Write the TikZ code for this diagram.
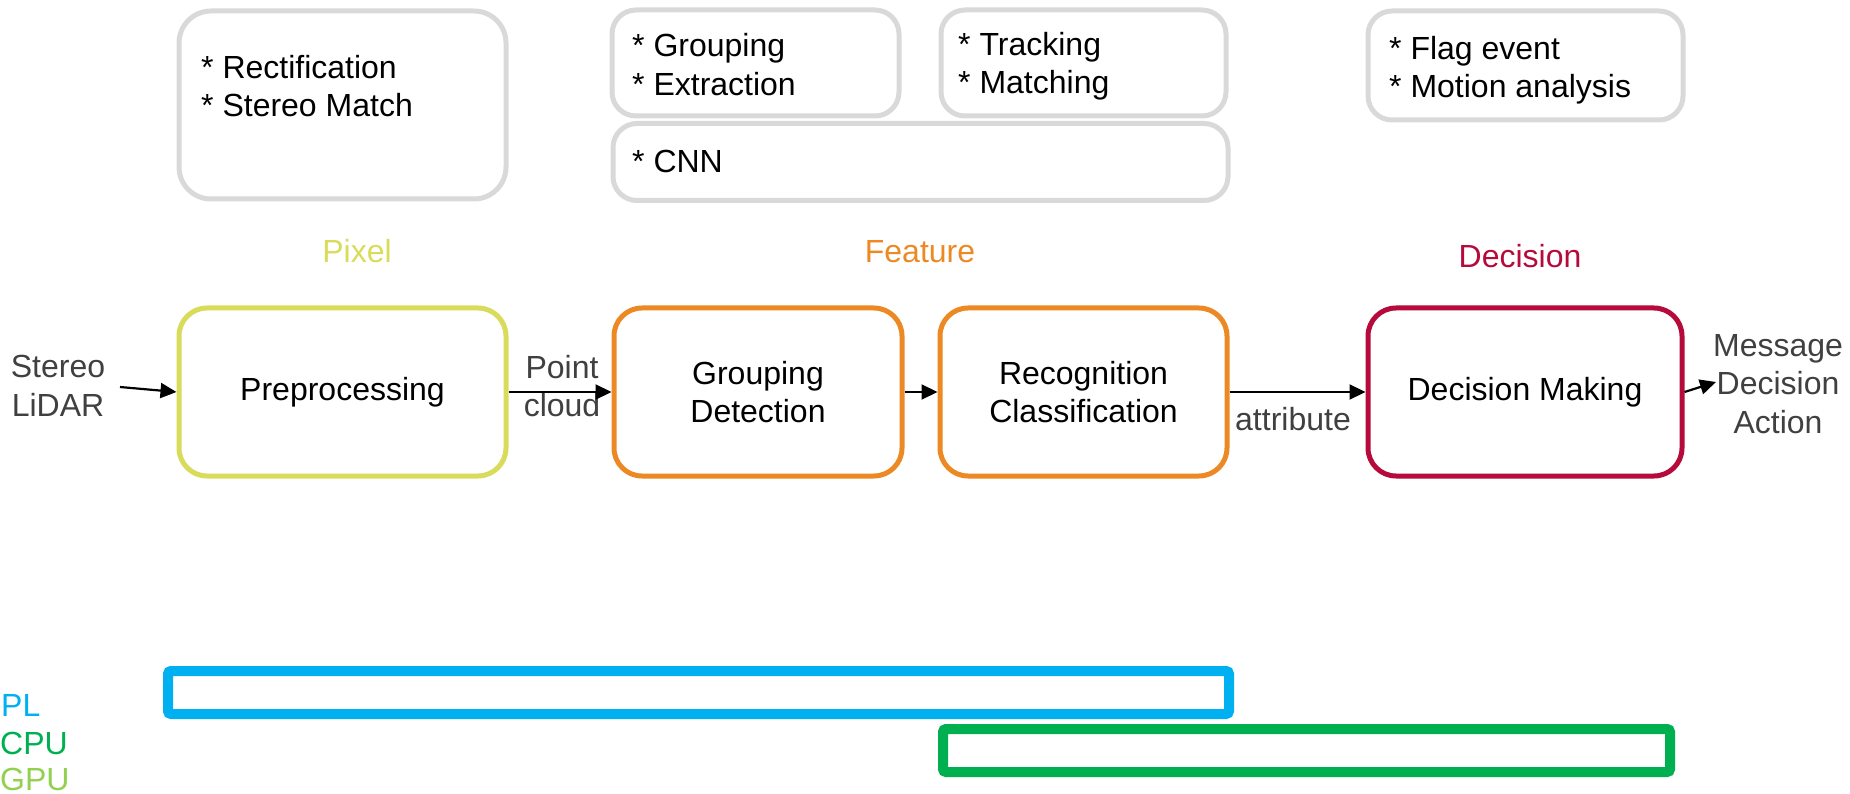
\documentclass[tikz,border=0pt]{standalone}
\usepackage{fontspec}
\setmainfont{Liberation Sans}
\usetikzlibrary{arrows.meta}

\definecolor{pixelcol}{RGB}{216,220,90}
\definecolor{featurecol}{RGB}{237,137,36}
\definecolor{decisioncol}{RGB}{183,10,60}
\definecolor{notegray}{RGB}{217,217,217}
\definecolor{labelgray}{RGB}{64,64,64}
\definecolor{plblue}{RGB}{0,176,240}
\definecolor{cpugreen}{RGB}{0,176,80}
\definecolor{gpugreen}{RGB}{146,208,80}

\tikzset{
  stage/.style={draw, line width=5pt, rounded corners=28pt, fill=white,
    align=center, inner sep=0pt, minimum height=168pt},
  note/.style={draw=notegray, line width=5pt, rounded corners=24pt,
    inner sep=0pt},
  noteline/.style={anchor=base west, inner sep=0pt},
  caption/.style={inner sep=0pt},
  iolabel/.style={text=labelgray, align=center, inner sep=0pt},
  flow/.style={-{Triangle[length=16pt,width=15pt]}, line width=2.2pt},
  unitbar/.style={line width=10pt, rounded corners=3pt},
  unitlabel/.style={anchor=base west, inner sep=0pt}
}

\begin{document}
\begin{tikzpicture}[x=1pt, y=-1pt, font=\fontsize{32}{38.5}\selectfont]
\useasboundingbox (0,0) rectangle (1850,794);

% note boxes along the top
\node[note, rounded corners=32pt, minimum width=327pt, minimum height=188pt] (n1) at (342.5,105) {};
\node[note, minimum width=287pt, minimum height=106pt] (n2) at (755.5,63) {};
\node[note, minimum width=285pt, minimum height=106pt] (n3) at (1083.5,63) {};
\node[note, minimum width=615pt, minimum height=77pt] (n4) at (920.5,162) {};
\node[note, minimum width=315pt, minimum height=109pt] (n5) at (1525.5,65.5) {};

\node[noteline] (t1a) at (201,79) {* Rectification};
\node[noteline] (t1b) at (201,117) {* Stereo Match};
\node[noteline] (t2a) at (632,57) {* Grouping};
\node[noteline] (t2b) at (632,96) {* Extraction};
\node[noteline] (t3a) at (958,56) {* Tracking};
\node[noteline] (t3b) at (958,94) {* Matching};
\node[noteline] (t4) at (632,173) {* CNN};
\node[noteline] (t5a) at (1389,60) {* Flag event};
\node[noteline] (t5b) at (1389,98) {* Motion analysis};

% level captions
\node[caption, text=pixelcol] (cpix) at (357,251) {Pixel};
\node[caption, text=featurecol] (cfeat) at (920,252) {Feature};
\node[caption, text=decisioncol] (cdec) at (1520,256) {Decision};

% processing stages
\node[stage, draw=pixelcol, minimum width=327pt] (pre) at (342.5,392) {Preprocessing};
\node[stage, draw=featurecol, minimum width=288pt] (grp) at (758,392) {Grouping\\Detection};
\node[stage, draw=featurecol, minimum width=287pt] (rec) at (1083.5,392) {Recognition\\Classification};
\node[stage, draw=decisioncol, minimum width=314pt] (dec) at (1525,392) {Decision Making};

% inputs and outputs
\node[iolabel] (src) at (58,386) {Stereo\\LiDAR};
\node[iolabel] (pc) at (562,386) {Point\\cloud};
\node[iolabel] (attr) at (1293,419) {attribute};
\node[iolabel] (out) at (1778,384) {Message\\Decision\\Action};

\coordinate (srcend) at (120,387);
\coordinate (outend) at (1716,382);

\draw[flow] (srcend) -- (pre.west);
\draw[flow] (pre.east) -- (grp.west);
\draw[flow] (grp.east) -- (rec.west);
\draw[flow] (rec.east) -- (dec.west);
\draw[flow] (dec.east) -- (outend);

% hardware mapping bars
\draw[unitbar, draw=plblue] (168,671) rectangle (1229,714);
\draw[unitbar, draw=cpugreen] (943,729) rectangle (1670,772);

\node[unitlabel, text=plblue] (pl) at (1,716) {PL};
\node[unitlabel, text=cpugreen] (cpu) at (0,754) {CPU};
\node[unitlabel, text=gpugreen] (gpu) at (0,790) {GPU};
\end{tikzpicture}
\end{document}
